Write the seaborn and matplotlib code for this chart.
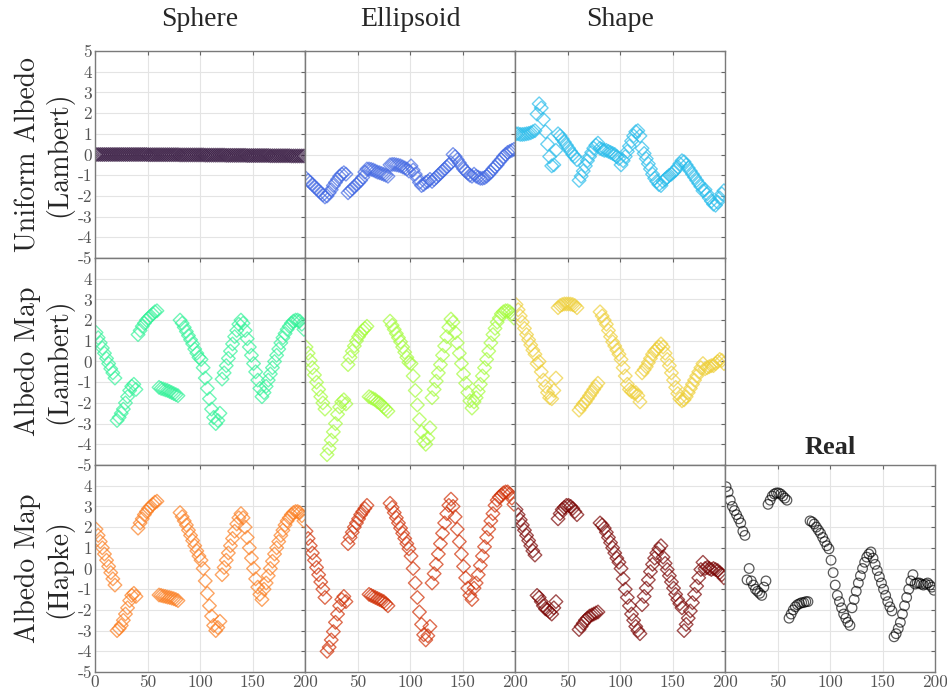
import numpy as np
import pandas as pd
import matplotlib
matplotlib.use('Agg')
import matplotlib.pyplot as plt
import seaborn as sns

# frame index (x) shared by every light curve
frame = np.arange(1, 200, 2)

sphere_uniform = [
    0.0, 0.0, 0.0, 0.0, 0.0, 0.0, 0.0, 0.0, 0.0, 0.0,
    0.0, 0.0, 0.0, 0.0, 0.0, 0.0, 0.0, 0.0, 0.0, 0.0,
    0.0, 0.0, 0.0, 0.0, 0.0, -0.01, -0.01, -0.01, -0.01, -0.01,
    -0.01, -0.01, -0.01, -0.01, -0.01, -0.01, -0.01, -0.01, -0.01, -0.01,
    -0.02, -0.02, -0.02, -0.02, -0.02, -0.02, -0.02, -0.02, -0.02, -0.02,
    -0.02, -0.02, -0.03, -0.03, -0.03, -0.03, -0.03, -0.03, -0.03, -0.03,
    -0.03, -0.03, -0.04, -0.04, -0.04, -0.04, -0.04, -0.04, -0.04, -0.04,
    -0.04, -0.04, -0.05, -0.05, -0.05, -0.05, -0.05, -0.05, -0.05, -0.05,
    -0.05, -0.05, -0.05, -0.06, -0.06, -0.06, -0.06, -0.06, -0.06, -0.06,
    -0.06, -0.06, -0.06, -0.07, -0.07, -0.07, -0.07, -0.07, -0.07, -0.07,
]
ellipsoid_uniform = [
    -1.15, -1.25, -1.35, -1.45, -1.55, -1.65, -1.75, -1.85, -1.95, -2.05,
    -2.0, -1.85, -1.7, -1.5, -1.35, -1.2, -1.05, -0.95, -0.88, -0.95,
    -1.85, -1.75, -1.65, -1.55, -1.45, -1.35, -1.25, -1.1, -0.85, -0.7,
    -0.7, -0.72, -0.75, -0.8, -0.85, -0.88, -0.92, -0.96, -1.0, -1.05,
    -0.5, -0.48, -0.48, -0.5, -0.52, -0.55, -0.6, -0.65, -0.7, -0.8,
    -0.55, -0.75, -0.95, -1.15, -1.35, -1.5, -1.45, -1.35, -1.3, -1.2,
    -1.3, -1.2, -1.1, -1.0, -0.9, -0.8, -0.7, -0.6, -0.5, -0.4,
    0.0, -0.1, -0.25, -0.4, -0.55, -0.7, -0.8, -0.9, -1.0, -1.05,
    -0.95, -1.05, -1.1, -1.15, -1.15, -1.12, -1.05, -0.95, -0.85, -0.7,
    -0.6, -0.5, -0.35, -0.25, -0.1, 0.0, 0.1, 0.15, 0.2, 0.25,
]
shape_uniform = [
    1.0, 1.0, 0.97, 0.97, 0.98, 1.0, 1.02, 1.05, 1.1, 1.15,
    1.95, 2.45, 2.25, 1.7, 1.1, 0.5, -0.1, -0.55, -0.5, 0.2,
    1.0, 0.9, 0.75, 0.6, 0.45, 0.3, 0.15, 0.0, -0.1, -0.25,
    -1.25, -1.05, -0.8, -0.55, -0.3, -0.1, 0.1, 0.3, 0.45, 0.55,
    0.3, 0.25, 0.2, 0.2, 0.15, 0.1, 0.05, 0.0, -0.1, -0.2,
    -0.5, -0.3, -0.1, 0.15, 0.4, 0.65, 0.9, 1.1, 1.15, 0.9,
    0.3, 0.05, -0.2, -0.45, -0.7, -0.95, -1.15, -1.3, -1.45, -1.5,
    -1.3, -1.2, -1.1, -1.0, -0.95, -0.85, -0.75, -0.6, -0.45, -0.3,
    -0.35, -0.5, -0.65, -0.8, -0.95, -1.1, -1.25, -1.4, -1.55, -1.75,
    -1.7, -1.9, -2.1, -2.25, -2.4, -2.45, -2.3, -2.1, -1.9, -1.75,
]
sphere_lambert = [
    1.4, 1.15, 0.9, 0.65, 0.4, 0.15, -0.1, -0.35, -0.55, -0.8,
    -2.85, -2.7, -2.5, -2.3, -2.0, -1.7, -1.4, -1.2, -1.1, -1.35,
    1.3, 1.5, 1.7, 1.85, 2.0, 2.1, 2.2, 2.3, 2.4, 2.45,
    -1.25, -1.3, -1.33, -1.37, -1.4, -1.45, -1.5, -1.55, -1.6, -1.65,
    2.0, 1.85, 1.65, 1.45, 1.25, 1.05, 0.85, 0.6, 0.4, 0.2,
    0.1, -0.3, -0.8, -1.3, -1.8, -2.3, -2.7, -3.0, -2.85, -2.5,
    -0.85, -0.55, -0.2, 0.15, 0.5, 0.85, 1.2, 1.5, 1.8, 2.0,
    1.85, 1.5, 1.1, 0.7, 0.3, -0.1, -0.5, -0.9, -1.3, -1.7,
    -1.5, -1.2, -0.9, -0.6, -0.3, 0.0, 0.3, 0.6, 0.9, 1.15,
    1.35, 1.55, 1.7, 1.85, 1.95, 2.0, 2.0, 1.95, 1.8, 1.55,
]
ellipsoid_lambert = [
    0.7, 0.4, 0.05, -0.3, -0.65, -1.0, -1.35, -1.7, -2.0, -2.3,
    -4.5, -4.2, -3.8, -3.4, -3.0, -2.55, -2.2, -1.95, -1.85, -2.05,
    -0.15, 0.2, 0.5, 0.75, 1.0, 1.2, 1.35, 1.5, 1.6, 1.7,
    -1.7, -1.75, -1.8, -1.85, -1.95, -2.0, -2.1, -2.2, -2.3, -2.4,
    1.95, 1.75, 1.55, 1.35, 1.15, 0.95, 0.7, 0.45, 0.2, -0.05,
    -0.1, -0.7, -1.4, -2.1, -2.8, -3.4, -3.85, -4.0, -3.7, -3.2,
    -1.75, -1.35, -0.95, -0.55, -0.15, 0.3, 0.75, 1.2, 1.65, 2.05,
    1.9, 1.4, 0.9, 0.4, -0.1, -0.6, -1.05, -1.5, -1.9, -2.25,
    -1.95, -1.75, -1.45, -1.1, -0.7, -0.3, 0.1, 0.5, 0.9, 1.3,
    1.6, 1.9, 2.1, 2.3, 2.4, 2.45, 2.45, 2.4, 2.3, 2.1,
]
shape_lambert = [
    2.75, 2.5, 2.2, 1.9, 1.6, 1.3, 1.05, 0.8, 0.55, 0.35,
    -0.1, 0.0, -0.5, -0.9, -1.2, -1.5, -1.75, -1.8, -1.4, -0.8,
    2.6, 2.7, 2.75, 2.78, 2.78, 2.78, 2.77, 2.75, 2.7, 2.6,
    -2.35, -2.2, -2.05, -1.95, -1.8, -1.65, -1.5, -1.35, -1.2, -1.05,
    2.4, 2.2, 2.0, 1.8, 1.5, 1.2, 0.95, 0.75, 0.55, 0.35,
    0.1, -0.3, -0.7, -1.1, -1.35, -1.45, -1.5, -1.5, -1.65, -1.95,
    -0.55, -0.4, -0.25, -0.05, 0.15, 0.35, 0.5, 0.6, 0.7, 0.85,
    0.7, 0.4, 0.1, -0.2, -0.55, -0.9, -1.25, -1.55, -1.8, -1.9,
    -1.85, -1.7, -1.5, -1.3, -1.1, -0.9, -0.7, -0.5, -0.3, -0.1,
    -0.35, -0.3, -0.25, -0.2, -0.2, -0.1, 0.0, 0.1, 0.05, -0.1,
]
sphere_hapke = [
    1.9, 1.6, 1.3, 1.0, 0.7, 0.4, 0.1, -0.2, -0.5, -0.8,
    -3.0, -2.9, -2.75, -2.5, -2.2, -1.9, -1.55, -1.3, -1.2, -1.35,
    1.95, 2.2, 2.4, 2.6, 2.75, 2.9, 3.0, 3.1, 3.2, 3.25,
    -1.28, -1.3, -1.33, -1.35, -1.38, -1.4, -1.43, -1.46, -1.5, -1.55,
    2.7, 2.5, 2.3, 2.1, 1.85, 1.6, 1.35, 1.1, 0.85, 0.6,
    0.4, 0.0, -0.6, -1.2, -1.8, -2.3, -2.75, -3.0, -2.85, -2.55,
    -0.3, 0.05, 0.4, 0.75, 1.1, 1.45, 1.8, 2.15, 2.45, 2.65,
    2.45, 2.0, 1.5, 1.0, 0.5, 0.0, -0.5, -0.9, -1.25, -1.5,
    -1.0, -0.7, -0.35, 0.0, 0.35, 0.7, 1.0, 1.3, 1.6, 1.85,
    2.1, 2.3, 2.45, 2.6, 2.7, 2.75, 2.75, 2.7, 2.55, 2.3,
]
ellipsoid_hapke = [
    1.8, 1.45, 1.1, 0.75, 0.4, 0.05, -0.3, -0.65, -1.0, -1.4,
    -4.0, -3.8, -3.45, -3.05, -2.6, -2.2, -1.8, -1.5, -1.35, -1.6,
    1.2, 1.5, 1.75, 2.0, 2.2, 2.4, 2.6, 2.75, 2.9, 3.05,
    -1.25, -1.3, -1.35, -1.4, -1.45, -1.5, -1.55, -1.6, -1.7, -1.8,
    3.15, 2.95, 2.7, 2.45, 2.2, 1.95, 1.7, 1.45, 1.2, 0.95,
    0.6, 0.0, -0.7, -1.4, -2.1, -2.7, -3.2, -3.45, -3.25, -2.8,
    -0.7, -0.25, 0.2, 0.7, 1.2, 1.7, 2.2, 2.65, 3.05, 3.35,
    3.0, 2.5, 1.9, 1.3, 0.7, 0.1, -0.45, -0.95, -1.3, -1.5,
    -0.95, -0.7, -0.3, 0.15, 0.6, 1.05, 1.5, 1.9, 2.3, 2.65,
    3.05, 3.3, 3.45, 3.55, 3.65, 3.7, 3.7, 3.6, 3.4, 3.1,
]
shape_hapke = [
    2.85, 2.6, 2.35, 2.1, 1.85, 1.6, 1.35, 1.1, 0.85, 0.65,
    -1.3, -1.4, -1.6, -1.8, -1.95, -2.0, -2.1, -2.2, -1.9, -1.6,
    2.4, 2.65, 2.85, 2.95, 3.05, 3.05, 3.0, 2.9, 2.75, 2.6,
    -2.95, -2.8, -2.65, -2.5, -2.4, -2.3, -2.25, -2.2, -2.15, -2.1,
    2.2, 2.1, 1.95, 1.75, 1.5, 1.25, 1.0, 0.75, 0.5, 0.3,
    0.0, -0.5, -1.0, -1.4, -1.8, -2.2, -2.5, -2.8, -3.0, -3.15,
    -1.75, -1.35, -0.95, -0.55, -0.15, 0.2, 0.5, 0.75, 0.95, 1.1,
    0.55, 0.25, -0.05, -0.35, -0.65, -0.95, -1.25, -1.5, -1.7, -1.9,
    -3.0, -2.7, -2.4, -2.05, -1.65, -1.25, -0.85, -0.45, -0.05, 0.3,
    0.0, 0.05, 0.0, -0.05, 0.0, -0.05, -0.1, -0.2, -0.3, -0.45,
]
real = [
    3.95, 3.7, 3.3, 3.0, 2.8, 2.6, 2.4, 2.2, 1.8, 1.6,
    -0.55, 0.0, -0.6, -0.8, -1.0, -1.1, -1.2, -1.3, -0.9, -0.6,
    3.1, 3.3, 3.5, 3.6, 3.65, 3.65, 3.6, 3.5, 3.4, 3.3,
    -2.4, -2.2, -2.0, -1.85, -1.75, -1.7, -1.65, -1.65, -1.6, -1.6,
    2.3, 2.25, 2.15, 2.0, 1.85, 1.7, 1.5, 1.3, 1.1, 0.95,
    0.4, -0.2, -0.8, -1.3, -1.6, -1.9, -2.2, -2.4, -2.6, -2.75,
    -1.9, -1.5, -1.1, -0.7, -0.35, 0.0, 0.3, 0.55, 0.7, 0.8,
    0.5, 0.2, -0.1, -0.4, -0.7, -1.0, -1.3, -1.6, -1.85, -2.05,
    -3.3, -3.15, -2.9, -2.6, -2.2, -1.8, -1.4, -1.0, -0.6, -0.3,
    -0.75, -0.7, -0.7, -0.75, -0.8, -0.75, -0.7, -0.8, -0.9, -1.05,
]

col_titles = ['Sphere', 'Ellipsoid', 'Shape']
row_titles = ['Uniform Albedo\n(Lambert)', 'Albedo Map\n(Lambert)', 'Albedo Map\n(Hapke)']
x_ticks = [0, 50, 100, 150, 200]
y_ticks = list(range(-5, 6))

sns.set_style('white')
plt.rcParams['axes.unicode_minus'] = False

turbo = plt.get_cmap('turbo')
palette = [turbo(v) for v in np.linspace(0, 1, 9)]

series = [
    [sphere_uniform, ellipsoid_uniform, shape_uniform],
    [sphere_lambert, ellipsoid_lambert, shape_lambert],
    [sphere_hapke, ellipsoid_hapke, shape_hapke],
]

W, H = 947, 696
fig = plt.figure(figsize=(W / 100, H / 100), dpi=100)

x0, pw = 95, 210
row_top = [51, 258, 465]
ph = 207


def make_ax(r, c):
    ax = fig.add_axes([(x0 + c * pw) / W, (H - row_top[r] - ph) / H, pw / W, ph / H])
    ax.set_xlim(0, 200)
    ax.set_ylim(-5, 5)
    ax.set_xticks(x_ticks)
    ax.set_yticks(y_ticks)
    ax.grid(True, color='#e4e4e4', lw=0.8)
    ax.set_axisbelow(True)
    ax.tick_params(direction='in', length=3, color='#666666', top=True, right=True,
                   labelsize=12.5, labelcolor='#555555', pad=2)
    for sp in ax.spines.values():
        sp.set_color('#7a7a7a')
        sp.set_linewidth(1.0)
    if c == 0:
        labs = [str(v) for v in y_ticks]
        if r > 0:
            labs[-1] = ''
        ax.set_yticklabels(labs, fontfamily='cmr10')
    else:
        ax.tick_params(labelleft=False)
    if r == 2:
        labs = [str(v) for v in x_ticks]
        if c > 0:
            labs[0] = ''
        ax.set_xticklabels(labs, fontfamily='cmr10')
    else:
        ax.tick_params(labelbottom=False)
    return ax


k = 0
for r in range(3):
    for c in range(3):
        ax = make_ax(r, c)
        df = pd.DataFrame({'frame': frame, 'mag': series[r][c]})
        sns.scatterplot(data=df, x='frame', y='mag', ax=ax, marker='D', s=48,
                        facecolors='none', edgecolor=palette[k], linewidth=1.0,
                        alpha=0.7, legend=False)
        ax.set_xlabel('')
        ax.set_ylabel('')
        k += 1

ax = make_ax(2, 3)
df = pd.DataFrame({'frame': frame, 'mag': real})
sns.scatterplot(data=df, x='frame', y='mag', ax=ax, marker='o', s=48,
                facecolors='none', edgecolor='black', linewidth=0.9,
                alpha=0.65, legend=False)
ax.set_xlabel('')
ax.set_ylabel('')
ax.set_title('Real', fontsize=19, fontweight='bold', family='Liberation Serif', pad=8)

for c, t in enumerate(col_titles):
    fig.text((x0 + (c + 0.5) * pw) / W, 1 - 20 / H, t, ha='center', va='center',
             fontsize=20, family='Liberation Serif')

for r, t in enumerate(row_titles):
    fig.text(44 / W, 1 - (row_top[r] + ph / 2) / H, t, ha='center', va='center',
             rotation=90, fontsize=20, family='cmr10', linespacing=1.15)

fig.savefig('out.png', dpi=100)
